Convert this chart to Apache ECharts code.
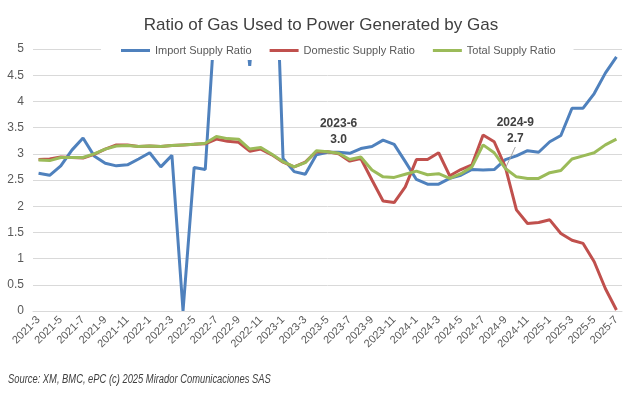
<!DOCTYPE html>
<html>
<head>
<meta charset="utf-8">
<script src="https://cdn.jsdelivr.net/npm/echarts@6/dist/echarts.min.js"></script>
<style>
  html, body { margin: 0; padding: 0; background: #fff; }
  #chart { width: 642px; height: 397px; }
</style>
</head>
<body>
<div id="chart"></div>
<script>
const months = [
  '2021-3', '2021-4', '2021-5', '2021-6', '2021-7', '2021-8', '2021-9', '2021-10', '2021-11', '2021-12',
  '2022-1', '2022-2', '2022-3', '2022-4', '2022-5', '2022-6', '2022-7', '2022-8', '2022-9', '2022-10', '2022-11', '2022-12',
  '2023-1', '2023-2', '2023-3', '2023-4', '2023-5', '2023-6', '2023-7', '2023-8', '2023-9', '2023-10', '2023-11', '2023-12',
  '2024-1', '2024-2', '2024-3', '2024-4', '2024-5', '2024-6', '2024-7', '2024-8', '2024-9', '2024-10', '2024-11', '2024-12',
  '2025-1', '2025-2', '2025-3', '2025-4', '2025-5', '2025-6', '2025-7'
];

// values above 5 run off the top of the plot in the original
const importRatio = [
  2.63, 2.59, 2.77, 3.07, 3.30, 2.96, 2.82, 2.77, 2.79, 2.90, 3.02, 2.75, 2.97, 0.00, 2.74, 2.70,
  6.0, 7.0, 7.0, 4.68, 7.0, 8.8, 2.91, 2.66, 2.61,
  2.98, 3.03, 3.03, 3.01, 3.10, 3.14, 3.26, 3.18, 2.85, 2.51, 2.42, 2.42, 2.53, 2.59,
  2.70, 2.69, 2.70, 2.89, 2.96, 3.06, 3.03, 3.23, 3.35, 3.87, 3.87, 4.15, 4.54, 4.85
];
const domesticRatio = [
  2.89, 2.90, 2.94, 2.93, 2.92, 2.99, 3.09, 3.17, 3.17, 3.14, 3.15, 3.14, 3.16, 3.17, 3.18,
  3.19, 3.28, 3.24, 3.22, 3.05, 3.09, 2.98, 2.84, 2.75, 2.84,
  3.04, 3.04, 3.00, 2.86, 2.91, 2.50, 2.10, 2.07, 2.37, 2.89, 2.89, 3.02, 2.58, 2.70,
  2.79, 3.36, 3.23, 2.75, 1.93, 1.67, 1.69, 1.74, 1.48, 1.35, 1.29, 0.94, 0.43, 0.02
];
const totalRatio = [
  2.88, 2.87, 2.93, 2.93, 2.93, 3.00, 3.09, 3.15, 3.16, 3.14, 3.15, 3.14, 3.16, 3.17, 3.18,
  3.20, 3.33, 3.29, 3.28, 3.09, 3.12, 2.99, 2.85, 2.75, 2.83,
  3.06, 3.04, 3.01, 2.89, 2.94, 2.69, 2.56, 2.55, 2.61, 2.67, 2.60, 2.62, 2.53, 2.62,
  2.75, 3.17, 3.02, 2.72, 2.56, 2.53, 2.53, 2.64, 2.68, 2.90, 2.96, 3.02, 3.17, 3.28
];

// callouts on the total series
const calloutMonths = ['2023-6', '2024-9'];
const calloutText = ['3.0', '2.7'];

const COLORS = ['#4F81BD', '#C0504D', '#9BBB59'];
const FONT = '"Liberation Sans", "DejaVu Sans", sans-serif';

const totalData = totalRatio.map((v, i) => {
  const k = calloutMonths.indexOf(months[i]);
  if (k < 0) return v;
  const item = {
    value: v,
    symbolSize: 1,
    label: {
      show: true,
      position: 'top',
      distance: 5,
      formatter: months[i] + '\n' + calloutText[k],
      fontFamily: FONT,
      fontWeight: 'bold',
      fontSize: 12,
      lineHeight: 16,
      color: '#404040'
    }
  };
  if (k === 1) {
    item.labelLine = { show: true, lineStyle: { color: '#a6a6a6', width: 1 } };
  }
  return item;
});

const chart = echarts.init(document.getElementById('chart'));

chart.setOption({
  animation: false,
  color: COLORS,
  title: {
    text: 'Ratio of Gas Used to Power Generated by Gas',
    left: 'center',
    top: 12,
    textStyle: { fontFamily: FONT, fontSize: 17, fontWeight: 'normal', color: '#404040' }
  },
  legend: {
    left: 101,
    top: 42,
    z: 10,
    backgroundColor: '#fff',
    padding: [3, 18, 4, 20],
    itemGap: 18,
    itemWidth: 29,
    itemHeight: 3,
    icon: 'rect',
    textStyle: { fontFamily: FONT, fontSize: 11, color: '#595959' },
    data: ['Import Supply Ratio', 'Domestic Supply Ratio', 'Total Supply Ratio']
  },
  grid: { left: 33, right: 20, top: 49, bottom: 86 },
  xAxis: {
    type: 'category',
    data: months,
    boundaryGap: true,
    axisLine: { lineStyle: { color: '#d9d9d9' } },
    axisTick: { show: false },
    axisLabel: {
      interval: 1,
      rotate: 45,
      margin: 7,
      fontFamily: FONT,
      fontSize: 11,
      color: '#595959'
    },
    splitLine: { show: false }
  },
  yAxis: {
    type: 'value',
    min: 0,
    max: 5,
    interval: 0.5,
    axisLine: { show: false },
    axisTick: { show: false },
    axisLabel: { margin: 9, fontFamily: FONT, fontSize: 12, color: '#595959' },
    splitLine: { lineStyle: { color: '#d9d9d9', width: 1 } }
  },
  series: [
    {
      name: 'Import Supply Ratio',
      type: 'line',
      data: importRatio,
      symbol: 'none',
      clip: true,
      lineStyle: { width: 3, color: COLORS[0] }
    },
    {
      name: 'Domestic Supply Ratio',
      type: 'line',
      data: domesticRatio,
      symbol: 'none',
      clip: true,
      lineStyle: { width: 3, color: COLORS[1] }
    },
    {
      name: 'Total Supply Ratio',
      type: 'line',
      data: totalData,
      symbol: 'circle',
      symbolSize: 0,
      showSymbol: true,
      showAllSymbol: true,
      itemStyle: { color: COLORS[2] },
      clip: true,
      lineStyle: { width: 3, color: COLORS[2] },
      labelLayout: (params) => params.dataIndex === months.indexOf(calloutMonths[1])
        ? { dx: 10, dy: -16 }
        : {}
    }
  ],
  graphic: [{
    type: 'text',
    left: 8,
    top: 374,
    scaleX: 0.78,
    style: {
      text: 'Source: XM, BMC, ePC (c) 2025 Mirador Comunicaciones SAS',
      font: 'italic 12px "Liberation Sans", sans-serif',
      fill: '#404040'
    }
  }]
});
</script>
</body>
</html>
